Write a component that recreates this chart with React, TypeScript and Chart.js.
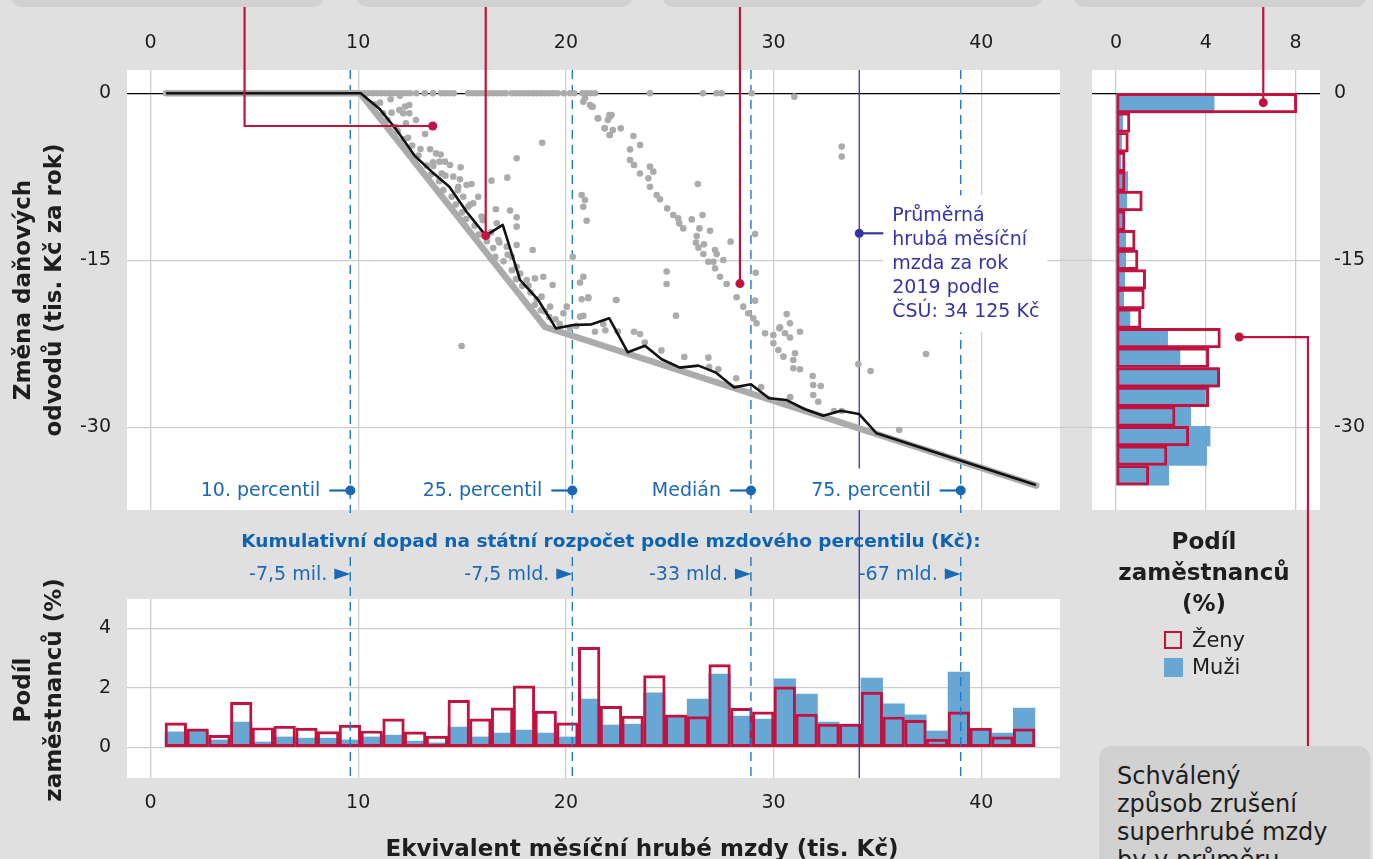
import React, { useEffect, useRef } from 'react';
import { Chart, registerables } from 'chart.js';

Chart.register(...registerables);

const FONT = '"DejaVu Sans", sans-serif';
const BG = '#e0e0e0';
const BOX = '#d1d1d1';
const GRID = '#cdcdcd';
const TEXT = '#1e1e1e';
const RED = '#c2123f';
const BAR_BLUE = '#68a6d3';
const LINE_BLUE = '#1f7acb';
const LABEL_BLUE = '#1b69b4';
const TITLE_BLUE = '#0f64b0';
const PURPLE = '#3434a6';
const POINT_GREY = '#ababab';

Chart.defaults.font.family = FONT;

// ---- main panel: change of tax/levy payments vs. wage ----
const envelopeX = [0.75, 10.1, 19.0, 42.65];
const envelopeY = [0, 0, -21.0, -35.25];

const meanX = [0.75, 10.12, 11.05, 11.85, 12.73, 13.54, 14.39, 15.22, 16.14, 16.96, 17.79, 18.67, 19.52, 20.36, 21.24, 22.09, 22.98, 23.81, 24.61, 25.49, 26.38, 27.23, 28.09, 28.91, 29.78, 30.63, 31.51, 32.39, 33.24, 34.11, 34.96, 42.63];
const meanY = [0, 0, -1.44, -3.3, -5.63, -7.04, -8.39, -10.64, -12.79, -11.83, -16.77, -18.57, -21.12, -20.82, -20.76, -20.22, -23.27, -22.68, -23.9, -24.65, -24.47, -25.1, -26.42, -26.15, -27.4, -27.56, -28.39, -28.97, -28.52, -28.81, -30.55, -35.19];

const scatterPoints: [number, number][] = [
  [10.3, 0], [10.5, 0], [10.7, 0], [10.9, 0], [11.1, 0], [11.3, 0], [11.5, 0], [11.7, 0], [11.9, 0], [12.1, 0],
  [12.3, 0], [12.5, 0], [12.8, 0], [13.2, 0], [13.6, 0], [14.0, 0], [14.2, 0], [14.4, 0], [14.6, 0], [15.3, 0],
  [15.5, 0], [15.7, 0], [15.9, 0], [16.1, 0], [16.3, 0], [16.5, 0], [16.7, 0], [16.9, 0], [17.1, 0], [17.4, 0],
  [17.6, 0], [17.8, 0], [18.0, 0], [18.2, 0], [18.4, 0], [18.6, 0], [18.8, 0], [19.0, 0], [19.2, 0], [19.4, 0],
  [19.6, 0], [19.9, 0], [20.2, 0], [20.4, 0], [20.8, 0], [21.0, 0], [21.2, 0], [21.4, 0], [24.05, 0], [26.6, 0],
  [27.25, 0], [27.5, 0], [28.95, 0], [31.0, -0.3],
  [11.05, -0.84], [11.56, -0.54], [12.01, -0.22], [11.61, -1.74], [11.98, -1.5], [12.25, -1.2], [12.46, -1.05],
  [12.17, -1.8], [12.46, -1.8], [12.3, -2.7], [12.78, -2.4], [13.22, -3.66], [13.46, -5.03], [13.75, -5.4],
  [13.97, -5.5], [13.91, -6.14], [14.18, -6.14], [14.42, -6.44], [14.93, -6.65], [13.62, -6.53], [14.02, -7.2],
  [14.58, -7.49], [14.9, -7.73], [15.22, -8.24], [15.46, -8.15], [14.82, -8.39], [15.06, -9.29], [15.78, -9.29],
  [15.54, -9.88], [15.3, -10.18], [15.94, -11.08], [16.63, -10.42], [16.67, -11.68], [17.31, -10.54], [17.63, -11.14],
  [17.63, -11.98], [16.75, -13.18], [17.15, -13.78], [17.63, -13.63], [17.39, -14.68], [17.63, -15.58], [18.4, -14.08],
  [18.11, -16.78], [18.51, -16.63], [18.91, -16.48], [19.36, -17.23], [18.83, -18.27], [19.24, -19.17], [20.04, -19.17],
  [19.88, -19.77], [20.68, -20.07], [20.76, -18.51], [21.08, -18.42], [21.4, -21.42], [22.44, -18.57], [18.86, -4.44],
  [17.63, -5.84], [17.18, -7.58], [16.42, -7.85], [14.98, -22.7], [20.76, -9.14], [20.92, -9.59], [20.84, -10.19],
  [21.0, -11.45], [20.33, -14.68], [22.1, -1.95], [22.02, -2.4], [21.86, -3.15], [22.26, -3.3], [22.1, -3.75],
  [21.56, -2.25], [20.92, -0.45], [21.16, -1.05], [21.29, -1.2], [20.84, -0.75],
  [11.8, -3.0], [12.4, -4.0], [13.0, -5.0], [13.6, -6.2], [14.2, -7.4], [14.8, -8.7], [15.4, -10.0], [16.0, -11.4],
  [16.4, -12.5], [16.8, -13.4], [17.2, -14.5], [17.8, -16.2], [18.2, -17.3], [18.6, -18.5], [19.0, -19.6], [19.5, -20.3],
  [10.8, -1.0], [11.2, -1.8], [11.4, -2.4], [11.9, -3.4], [12.2, -4.1], [12.6, -4.7], [12.9, -5.6], [13.3, -6.5],
  [13.5, -7.3], [13.9, -7.9], [14.1, -8.7], [14.5, -9.3], [14.7, -10.0], [15.0, -10.7], [15.2, -11.3], [15.6, -11.9],
  [15.8, -12.7], [16.2, -13.3], [16.5, -13.9], [16.6, -14.7], [17.0, -15.1], [17.4, -15.9], [17.6, -16.7], [17.9, -17.3],
  [18.3, -17.9], [18.5, -19.0], [18.8, -19.5], [19.2, -20.1], [19.7, -20.7], [20.2, -21.1], [20.5, -20.9], [21.9, -21.3],
  [22.5, -21.4], [23.8, -22.4], [24.6, -23.1], [25.7, -23.7], [26.9, -24.6], [28.2, -25.6], [29.4, -26.4], [30.8, -27.3],
  [21.24, -1.2], [21.53, -2.25], [22.12, -2.1], [22.2, -1.95], [21.88, -3.15], [22.12, -3.75], [22.64, -3.15],
  [23.25, -3.84], [23.57, -4.65], [23.09, -5.04], [23.09, -6.0], [23.28, -6.44], [23.57, -7.2], [24.05, -6.59],
  [24.21, -7.04], [23.97, -7.64], [24.05, -8.39], [24.37, -9.14], [24.53, -9.53], [24.88, -10.34], [25.17, -10.94],
  [25.41, -11.24], [25.46, -11.69], [25.65, -12.14], [26.06, -11.33], [26.35, -8.15], [26.58, -10.94], [26.43, -12.14],
  [26.94, -12.35], [26.3, -12.83], [26.26, -13.42], [26.65, -13.57], [26.38, -13.87], [26.62, -14.44], [27.18, -14.08],
  [27.26, -14.44], [26.86, -15.13], [27.1, -15.13], [27.58, -14.98], [27.18, -15.73], [27.42, -16.48], [27.74, -17.13],
  [27.93, -13.33], [29.11, -12.65], [29.14, -16.12], [29.11, -18.63], [24.85, -16.02], [24.85, -17.13], [22.41, -18.57],
  [25.3, -19.98], [28.22, -18.33], [28.54, -19.17], [28.78, -19.77], [29.02, -20.22], [29.18, -20.67], [33.28, -4.79],
  [33.28, -5.69], [20.84, -16.48], [20.68, -17.01], [21.08, -18.33], [23.28, -21.42], [23.57, -21.63], [30.63, -19.84],
  [30.79, -20.67], [31.27, -21.42], [30.28, -21.12], [29.59, -21.57], [29.99, -21.72], [37.34, -23.43],
  [30.31, -21.03], [30.55, -21.56], [30.79, -21.95], [29.99, -22.46], [30.23, -23.06], [30.47, -23.66], [31.03, -23.36],
  [30.95, -23.96], [30.95, -24.71], [31.27, -24.8], [31.88, -25.4], [31.91, -26.21], [32.27, -26.3], [31.91, -27.11],
  [32.15, -27.71], [32.91, -28.54], [33.28, -28.54], [34.08, -24.35], [34.67, -24.95], [36.05, -30.25], [26.86, -23.75],
  [27.34, -24.8], [21.8, -20.73], [20.84, -20.0],
];

const percentileLabels = ['10. percentil', '25. percentil', 'Medián', '75. percentil'];
const percentileValues = [9.62, 20.31, 28.91, 39.01];
const budgetLabels = ['-7,5 mil.', '-7,5 mld.', '-33 mld.', '-67 mld.'];
const averageWage = 34.125;
const averageLabelLines = ['Průměrná', 'hrubá měsíční', 'mzda za rok', '2019 podle', 'ČSÚ: 34 125 Kč'];
const averageLabelY = -12.58;

const mainCallouts = [
  { pointX: 13.59, pointY: -2.94, stemX: 4.53 },
  { pointX: 16.14, pointY: -12.79, stemX: 16.14 },
  { pointX: 28.38, pointY: -17.1, stemX: 28.38 },
];

// ---- side panel: share of employees by change ----
const changeBins = [-0.88, -2.64, -4.4, -6.16, -7.92, -9.68, -11.44, -13.2, -14.96, -16.72, -18.48, -20.24, -22.0, -23.76, -25.52, -27.28, -29.04, -30.8, -32.56, -34.32];
const womenByChange = [8.05, 0.62, 0.55, 0.4, 0.4, 1.17, 0.4, 0.85, 0.98, 1.32, 1.26, 1.11, 4.65, 4.13, 4.62, 4.13, 2.63, 3.24, 2.27, 1.46];
const menByChange = [4.37, 0.3, 0.25, 0.22, 0.52, 0.48, 0.3, 0.43, 0.43, 0.39, 0.34, 0.62, 2.3, 2.85, 4.56, 3.98, 3.33, 4.19, 4.04, 2.35];
const sideCallouts = [
  { pointX: 6.56, pointY: -0.84, stemX: 6.56, up: true },
  { pointX: 5.49, pointY: -21.9, stemX: 8.55, up: false },
];

// ---- bottom panel: share of employees by wage ----
const wageBins = [1.22, 2.27, 3.32, 4.37, 5.41, 6.46, 7.51, 8.55, 9.6, 10.65, 11.7, 12.74, 13.79, 14.84, 15.88, 16.93, 17.98, 19.03, 20.07, 21.12, 22.17, 23.21, 24.26, 25.31, 26.36, 27.4, 28.45, 29.5, 30.54, 31.59, 32.64, 33.69, 34.73, 35.78, 36.83, 37.87, 38.92, 39.97, 41.02, 42.06];
const womenByWage = [0.82, 0.62, 0.4, 1.51, 0.66, 0.71, 0.65, 0.53, 0.75, 0.55, 0.96, 0.52, 0.38, 1.58, 0.96, 1.33, 2.07, 1.22, 0.82, 3.36, 1.38, 1.05, 2.41, 1.09, 1.03, 2.78, 1.31, 1.19, 2.03, 1.12, 0.78, 0.78, 1.86, 1.02, 0.91, 0.28, 1.19, 0.65, 0.35, 0.62];
const menByWage = [0.52, 0.55, 0.25, 0.85, 0.18, 0.35, 0.31, 0.31, 0.25, 0.35, 0.41, 0.21, 0.15, 0.68, 0.35, 0.48, 0.58, 0.48, 0.35, 1.62, 0.75, 0.78, 1.83, 1.05, 1.62, 2.46, 1.05, 0.95, 2.3, 1.79, 0.85, 0.78, 2.33, 1.46, 1.09, 0.55, 2.53, 0.62, 0.48, 1.32];

const CALLOUT_TOP = 7;
const SIDE_BOX_TOP = 746;

const tickFont = { size: 19, family: FONT };

function whiteArea(chart: any) {
  const { ctx, chartArea: a } = chart;
  ctx.save();
  ctx.fillStyle = '#ffffff';
  ctx.fillRect(a.left, a.top, a.right - a.left, a.bottom - a.top);
  ctx.restore();
}

function dot(ctx: CanvasRenderingContext2D, x: number, y: number, r: number, color: string) {
  ctx.beginPath();
  ctx.arc(x, y, r, 0, Math.PI * 2);
  ctx.fillStyle = color;
  ctx.fill();
}

function fitY(width: number) {
  return (s: any) => {
    s.width = width;
    s.paddingTop = 0;
    s.paddingBottom = 0;
  };
}

function fitX(height: number) {
  return (s: any) => {
    s.height = height;
    s.paddingLeft = 0;
    s.paddingRight = 0;
  };
}

export default function App() {
  const mainRef = useRef<HTMLCanvasElement>(null);
  const sideRef = useRef<HTMLCanvasElement>(null);
  const bottomRef = useRef<HTMLCanvasElement>(null);

  useEffect(() => {
    const charts: Chart[] = [];

    const mainDecor = {
      id: 'mainDecor',
      beforeDraw: whiteArea,
      beforeDatasetsDraw(chart: any) {
        const { ctx, chartArea: a, scales } = chart;
        const x = scales.x;
        ctx.save();
        ctx.strokeStyle = LINE_BLUE;
        ctx.lineWidth = 1.4;
        ctx.setLineDash([9, 6]);
        percentileValues.forEach((v) => {
          const px = x.getPixelForValue(v);
          ctx.beginPath();
          ctx.moveTo(px, a.top);
          ctx.lineTo(px, a.bottom + 3);
          ctx.stroke();
        });
        ctx.setLineDash([]);
        ctx.strokeStyle = PURPLE;
        ctx.lineWidth = 1.3;
        const ax = x.getPixelForValue(averageWage);
        ctx.beginPath();
        ctx.moveTo(ax, a.top);
        ctx.lineTo(ax, a.bottom + 5);
        ctx.stroke();
        ctx.restore();
      },
      afterDatasetsDraw(chart: any) {
        const { ctx, chartArea: a, scales } = chart;
        const x = scales.x;
        const y = scales.y;
        ctx.save();
        // percentile labels
        ctx.font = `19px ${FONT}`;
        ctx.textBaseline = 'middle';
        percentileLabels.forEach((t, i) => {
          const px = x.getPixelForValue(percentileValues[i]);
          const py = a.bottom - 19.5;
          const w = ctx.measureText(t).width;
          const tx = px - 30;
          ctx.fillStyle = '#ffffff';
          ctx.fillRect(tx - w - 3, py - 22, w + 6, a.bottom - (py - 22));
          ctx.fillStyle = LABEL_BLUE;
          ctx.textAlign = 'right';
          ctx.fillText(t, tx, py + 1);
          ctx.strokeStyle = LABEL_BLUE;
          ctx.lineWidth = 2.2;
          ctx.beginPath();
          ctx.moveTo(px - 21, py);
          ctx.lineTo(px, py);
          ctx.stroke();
          dot(ctx, px, py, 5, LABEL_BLUE);
        });
        // average wage label
        const ax = x.getPixelForValue(averageWage);
        const ay = y.getPixelForValue(averageLabelY);
        ctx.fillStyle = '#ffffff';
        ctx.fillRect(ax + 24, ay - 38, 164, 137);
        ctx.strokeStyle = PURPLE;
        ctx.lineWidth = 2.2;
        ctx.beginPath();
        ctx.moveTo(ax, ay);
        ctx.lineTo(ax + 24, ay);
        ctx.stroke();
        dot(ctx, ax, ay, 4.5, PURPLE);
        ctx.fillStyle = PURPLE;
        ctx.textAlign = 'left';
        averageLabelLines.forEach((t, i) => {
          ctx.fillText(t, ax + 33, ay - 17 + i * 24);
        });
        // red callouts
        ctx.strokeStyle = RED;
        ctx.lineWidth = 2.2;
        mainCallouts.forEach((c) => {
          const sx = x.getPixelForValue(c.stemX);
          const px = x.getPixelForValue(c.pointX);
          const py = y.getPixelForValue(c.pointY);
          ctx.beginPath();
          ctx.moveTo(sx, CALLOUT_TOP);
          ctx.lineTo(sx, py);
          ctx.lineTo(px, py);
          ctx.stroke();
          dot(ctx, px, py, 4.5, RED);
        });
        ctx.restore();
      },
    };

    if (mainRef.current) {
      charts.push(
        new Chart(mainRef.current, {
          type: 'scatter',
          data: {
            datasets: [
              {
                type: 'line',
                label: 'Průměr',
                data: meanX.map((v, i) => ({ x: v, y: meanY[i] })),
                borderColor: '#111111',
                borderWidth: 2.6,
                pointRadius: 0,
                tension: 0,
                borderJoinStyle: 'round',
                order: 0,
              } as any,
              {
                type: 'scatter',
                label: 'Domácnosti',
                data: scatterPoints.map(([px, py]) => ({ x: px, y: py })),
                pointRadius: 3.3,
                pointBackgroundColor: POINT_GREY,
                pointBorderWidth: 0,
                order: 1,
              } as any,
              {
                type: 'line',
                label: 'Minimum',
                data: envelopeX.map((v, i) => ({ x: v, y: envelopeY[i] })),
                borderColor: POINT_GREY,
                borderWidth: 6.5,
                pointRadius: 0,
                tension: 0,
                borderCapStyle: 'round',
                borderJoinStyle: 'round',
                order: 2,
              } as any,
            ],
          },
          options: {
            responsive: false,
            animation: false,
            layout: { padding: { top: 0, right: 10, bottom: 5, left: 0 } },
            plugins: { legend: { display: false }, tooltip: { enabled: false } },
            scales: {
              x: {
                type: 'linear',
                position: 'top',
                min: -1.131,
                max: 43.79,
                ticks: { stepSize: 10, includeBounds: false, font: tickFont, color: TEXT, padding: 16 },
                grid: { color: GRID, lineWidth: 1.3, drawTicks: false },
                border: { display: false },
                afterFit: fitX(70),
              },
              y: {
                type: 'linear',
                min: -37.44,
                max: 2.093,
                ticks: { stepSize: 15, includeBounds: false, font: tickFont, color: TEXT, padding: 16 },
                grid: {
                  color: (c: any) => (c.tick && c.tick.value === 0 ? '#000000' : GRID),
                  lineWidth: 1.3,
                  drawTicks: false,
                },
                border: { display: false },
                afterFit: fitY(127),
              },
            },
          } as any,
          plugins: [mainDecor],
        })
      );
    }

    const sideDecor = {
      id: 'sideDecor',
      beforeDraw(chart: any) {
        whiteArea(chart);
        const { ctx, chartArea: a, scales } = chart;
        ctx.save();
        ctx.strokeStyle = GRID;
        ctx.lineWidth = 1.3;
        [-15, -30].forEach((v) => {
          const py = scales.y.getPixelForValue(v);
          ctx.beginPath();
          ctx.moveTo(0, py);
          ctx.lineTo(a.left, py);
          ctx.stroke();
        });
        ctx.restore();
      },
      afterDatasetsDraw(chart: any) {
        const { ctx, scales } = chart;
        const x = scales.x;
        const y = scales.y;
        ctx.save();
        ctx.strokeStyle = RED;
        ctx.lineWidth = 2.2;
        sideCallouts.forEach((c) => {
          const sx = x.getPixelForValue(c.stemX);
          const px = x.getPixelForValue(c.pointX);
          const py = y.getPixelForValue(c.pointY);
          ctx.beginPath();
          if (c.up) {
            ctx.moveTo(sx, CALLOUT_TOP);
            ctx.lineTo(sx, py);
            ctx.lineTo(px, py);
          } else {
            ctx.moveTo(px, py);
            ctx.lineTo(sx, py);
            ctx.lineTo(sx, SIDE_BOX_TOP);
          }
          ctx.stroke();
          dot(ctx, px, py, 4.5, RED);
        });
        ctx.restore();
      },
    };

    if (sideRef.current) {
      charts.push(
        new Chart(sideRef.current, {
          type: 'bar',
          data: {
            datasets: [
              {
                label: 'Ženy',
                data: changeBins.map((c, i) => ({ x: womenByChange[i], y: c })),
                backgroundColor: 'rgba(0,0,0,0)',
                borderColor: RED,
                borderWidth: 2.3,
                borderSkipped: false,
                grouped: false,
                barPercentage: 1,
                categoryPercentage: 1,
                order: 0,
              } as any,
              {
                label: 'Muži',
                data: changeBins.map((c, i) => ({ x: menByChange[i], y: c })),
                backgroundColor: BAR_BLUE,
                borderWidth: 0,
                grouped: false,
                barPercentage: 1,
                categoryPercentage: 1,
                order: 1,
              } as any,
            ],
          },
          options: {
            indexAxis: 'y',
            responsive: false,
            animation: false,
            layout: { padding: { top: 0, right: 0, bottom: 250, left: 32 } },
            plugins: { legend: { display: false }, tooltip: { enabled: false } },
            scales: {
              x: {
                type: 'linear',
                position: 'top',
                min: -1.069,
                max: 9.087,
                offset: false,
                ticks: { stepSize: 4, includeBounds: false, font: tickFont, color: TEXT, padding: 16 },
                grid: { color: GRID, lineWidth: 1.3, drawTicks: false, offset: false },
                border: { display: false },
                afterFit: fitX(70),
              },
              y: {
                type: 'linear',
                position: 'right',
                min: -37.44,
                max: 2.093,
                offset: false,
                ticks: { stepSize: 15, includeBounds: false, font: tickFont, color: TEXT, padding: 14 },
                grid: {
                  color: (c: any) => (c.tick && c.tick.value === 0 ? '#000000' : GRID),
                  lineWidth: 1.3,
                  drawTicks: false,
                  offset: false,
                },
                border: { display: false },
                afterFit: fitY(53),
              },
            },
          } as any,
          plugins: [sideDecor],
        })
      );
    }

    const bottomDecor = {
      id: 'bottomDecor',
      beforeDraw: whiteArea,
      afterDatasetsDraw(chart: any) {
        const { ctx, chartArea: a, scales } = chart;
        const x = scales.x;
        ctx.save();
        ctx.strokeStyle = LINE_BLUE;
        ctx.lineWidth = 1.4;
        ctx.setLineDash([9, 6]);
        percentileValues.forEach((v) => {
          const px = x.getPixelForValue(v);
          ctx.beginPath();
          ctx.moveTo(px, 42);
          ctx.lineTo(px, a.bottom);
          ctx.stroke();
        });
        ctx.setLineDash([]);
        ctx.strokeStyle = PURPLE;
        ctx.lineWidth = 1.3;
        const ax = x.getPixelForValue(averageWage);
        ctx.beginPath();
        ctx.moveTo(ax, 0);
        ctx.lineTo(ax, a.bottom);
        ctx.stroke();
        ctx.font = `19px ${FONT}`;
        ctx.textAlign = 'right';
        ctx.textBaseline = 'middle';
        ctx.fillStyle = LABEL_BLUE;
        budgetLabels.forEach((t, i) => {
          const px = x.getPixelForValue(percentileValues[i]);
          const py = 59;
          ctx.fillText(t, px - 23, py + 1);
          ctx.beginPath();
          ctx.moveTo(px - 16, py - 5.5);
          ctx.lineTo(px, py);
          ctx.lineTo(px - 16, py + 5.5);
          ctx.closePath();
          ctx.fill();
        });
        ctx.restore();
      },
    };

    if (bottomRef.current) {
      charts.push(
        new Chart(bottomRef.current, {
          type: 'bar',
          data: {
            datasets: [
              {
                label: 'Ženy',
                data: wageBins.map((c, i) => ({ x: c, y: womenByWage[i] })),
                backgroundColor: 'rgba(0,0,0,0)',
                borderColor: RED,
                borderWidth: 2.3,
                borderSkipped: false,
                grouped: false,
                barPercentage: 1,
                categoryPercentage: 1,
                order: 0,
              } as any,
              {
                label: 'Muži',
                data: wageBins.map((c, i) => ({ x: c, y: menByWage[i] })),
                backgroundColor: BAR_BLUE,
                borderWidth: 0,
                grouped: false,
                barPercentage: 1,
                categoryPercentage: 1,
                order: 1,
              } as any,
            ],
          },
          options: {
            responsive: false,
            animation: false,
            layout: { padding: { top: 84, right: 10, bottom: 0, left: 0 } },
            plugins: { legend: { display: false }, tooltip: { enabled: false } },
            scales: {
              x: {
                type: 'linear',
                position: 'bottom',
                min: -1.131,
                max: 43.79,
                offset: false,
                ticks: { stepSize: 10, includeBounds: false, font: tickFont, color: TEXT, padding: 14 },
                grid: { color: GRID, lineWidth: 1.3, drawTicks: false, offset: false },
                border: { display: false },
                afterFit: fitX(81),
              },
              y: {
                type: 'linear',
                min: -1.03,
                max: 4.985,
                ticks: { stepSize: 2, includeBounds: false, font: tickFont, color: TEXT, padding: 16 },
                grid: { color: GRID, lineWidth: 1.3, drawTicks: false },
                border: { display: false },
                afterFit: fitY(127),
              },
            },
          } as any,
          plugins: [bottomDecor],
        })
      );
    }

    return () => {
      charts.forEach((c) => c.destroy());
    };
  }, []);

  const abs = (style: React.CSSProperties): React.CSSProperties => ({ position: 'absolute', ...style });
  const topBoxes = [
    [11, 324],
    [357, 632],
    [663, 1042],
    [1074, 1366],
  ];

  return (
    <div
      style={{
        position: 'absolute',
        left: 0,
        top: 0,
        width: 1373,
        height: 859,
        background: BG,
        overflow: 'hidden',
        fontFamily: FONT,
        color: TEXT,
      }}
    >
      {topBoxes.map(([l, r], i) => (
        <div key={i} style={abs({ left: l, top: -20, width: r - l, height: 27, background: BOX, borderRadius: 10 })} />
      ))}
      <canvas ref={mainRef} width={1070} height={515} style={abs({ left: 0, top: 0, width: 1070, height: 515 })} />
      <canvas ref={sideRef} width={313} height={760} style={abs({ left: 1060, top: 0, width: 313, height: 760 })} />
      <canvas ref={bottomRef} width={1070} height={344} style={abs({ left: 0, top: 515, width: 1070, height: 344 })} />

      <div
        style={abs({
          left: 38,
          top: 290,
          transform: 'translate(-50%, -50%) rotate(-90deg)',
          whiteSpace: 'nowrap',
          textAlign: 'center',
          fontWeight: 'bold',
          fontSize: 23,
          lineHeight: '31px',
        })}
      >
        Změna daňových
        <br />
        odvodů (tis. Kč za rok)
      </div>
      <div
        style={abs({
          left: 38,
          top: 690,
          transform: 'translate(-50%, -50%) rotate(-90deg)',
          whiteSpace: 'nowrap',
          textAlign: 'center',
          fontWeight: 'bold',
          fontSize: 23,
          lineHeight: '31px',
        })}
      >
        Podíl
        <br />
        zaměstnanců (%)
      </div>
      <div
        style={abs({
          left: 611,
          top: 540,
          transform: 'translate(-50%, -50%)',
          whiteSpace: 'nowrap',
          fontWeight: 'bold',
          fontSize: 18.5,
          color: TITLE_BLUE,
        })}
      >
        Kumulativní dopad na státní rozpočet podle mzdového percentilu (Kč):
      </div>
      <div
        style={abs({
          left: 642,
          top: 848,
          transform: 'translate(-50%, -50%)',
          whiteSpace: 'nowrap',
          fontWeight: 'bold',
          fontSize: 23,
        })}
      >
        Ekvivalent měsíční hrubé mzdy (tis. Kč)
      </div>

      <div
        style={abs({
          left: 1204,
          top: 526,
          transform: 'translateX(-50%)',
          whiteSpace: 'nowrap',
          textAlign: 'center',
          fontWeight: 'bold',
          fontSize: 23,
          lineHeight: '31px',
        })}
      >
        Podíl
        <br />
        zaměstnanců
        <br />
        (%)
      </div>
      <div style={abs({ left: 1164, top: 631, width: 14, height: 14, border: `2.5px solid ${RED}`, background: 'transparent' })} />
      <div style={abs({ left: 1192, top: 640, transform: 'translateY(-50%)', fontSize: 21, whiteSpace: 'nowrap' })}>Ženy</div>
      <div style={abs({ left: 1164, top: 658, width: 19, height: 19, background: BAR_BLUE })} />
      <div style={abs({ left: 1192, top: 667, transform: 'translateY(-50%)', fontSize: 21, whiteSpace: 'nowrap' })}>Muži</div>

      <div
        style={abs({
          left: 1099,
          top: SIDE_BOX_TOP,
          width: 271,
          height: 140,
          background: BOX,
          borderRadius: 12,
          boxSizing: 'border-box',
          padding: '16px 0 0 18px',
          fontSize: 24,
          lineHeight: '28px',
          whiteSpace: 'nowrap',
        })}
      >
        Schválený
        <br />
        způsob zrušení
        <br />
        superhrubé mzdy
        <br />
        by v průměru
      </div>
    </div>
  );
}
